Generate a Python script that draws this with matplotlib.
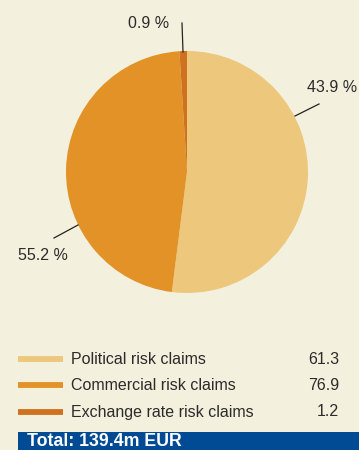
import matplotlib
matplotlib.use("Agg")
import matplotlib.pyplot as plt

plt.rcParams['font.family'] = ['Liberation Sans', 'DejaVu Sans']

# data
categories = ["Political risk claims", "Commercial risk claims", "Exchange rate risk claims"]
values = [61.3, 76.9, 1.2]
pct_labels = ["43.9 %", "55.2 %", "0.9 %"]
# wedge sizes as drawn in the reference picture (they do not follow the labels)
pie_shares = [52.0, 47.0, 1.0]
total_label = "Total: 139.4m EUR"

colors = ["#ecc77c", "#e29226", "#d0711f"]
bg = "#f4f0de"
txt = "#2b2b2b"

W, H = 359, 450
fig = plt.figure(figsize=(W / 100, H / 100), dpi=100)
fig.set_facecolor(bg)
ax = fig.add_axes([0, 0, 1, 1])

# pixel coords from the top -> data coords
def Y(py):
    return H - py

cx, cy, r = 187, Y(172), 121
ax.pie(pie_shares, colors=colors, startangle=90, counterclock=False,
       center=(cx, cy), radius=r, frame=True,
       wedgeprops=dict(linewidth=0))
ax.set_xlim(0, W)
ax.set_ylim(0, H)
ax.axis("off")

# leader lines and percentage labels
leaders = [((295, 116), (319, 104)), ((78, 225), (54, 238)), ((183, 52), (182, 23))]
label_pos = [(357, 88, "right"), (18, 256, "left"), (169, 23, "right")]
for (p0, p1), (lx, ly, ha), lab in zip(leaders, label_pos, pct_labels):
    ax.plot([p0[0], p1[0]], [Y(p0[1]), Y(p1[1])], color="#222222", lw=0.9)
    ax.text(lx, Y(ly), lab, ha=ha, va="center", fontsize=11.5, color=txt)

# legend rows
rows_y = [359, 385, 412]
for name, val, col, ry in zip(categories, values, colors, rows_y):
    ax.plot([18, 63], [Y(ry), Y(ry)], color=col, lw=4.2, solid_capstyle="butt")
    ax.text(71, Y(ry), name, ha="left", va="center", fontsize=11.5, color=txt)
    ax.text(339, Y(ry), f"{val:.1f}", ha="right", va="center", fontsize=11.5, color=txt)

# total bar
ax.add_patch(plt.Rectangle((18, 0), W - 18, Y(432), color="#004b93", lw=0))
ax.text(27, Y(449.5), total_label, ha="left", va="bottom", fontsize=12.8,
        fontweight="bold", color="white")

fig.savefig("out.png", dpi=100, facecolor=bg)
